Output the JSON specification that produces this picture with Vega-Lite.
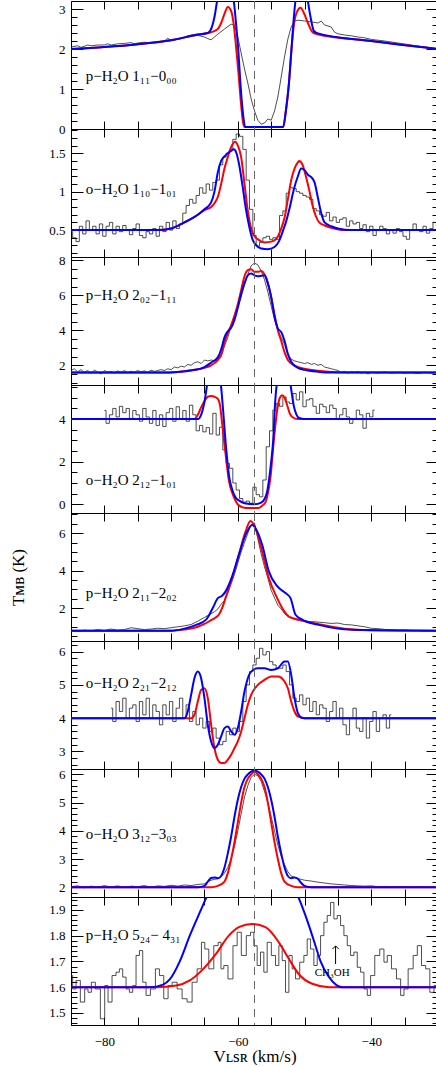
{
"$schema":"https://vega.github.io/schema/vega-lite/v6.json",
"padding":{"left":8,"top":0,"right":1,"bottom":0},
"autosize":{"type":"pad"},
"background":"white",
"spacing":0,
"bounds":"flush",
"config":{"view":{"stroke":"#000","strokeWidth":1},"axis":{"domain":false,"grid":false,"tickColor":"#000","tickWidth":1,"labelFont":"Liberation Serif","labelFontSize":13,"labelColor":"#000","titleFont":"Liberation Serif","titleFontSize":17,"titleFontWeight":"normal","titleColor":"#000"}},
"datasets":{
"p1o":[{"v":-85,"t":2.05},{"v":-84,"t":2.08},{"v":-83.5,"t":2.04},{"v":-83,"t":2.07},{"v":-82.5,"t":2.1},{"v":-82,"t":2.08},{"v":-81,"t":2.1},{"v":-80,"t":2.1},{"v":-79.5,"t":2.13},{"v":-79,"t":2.1},{"v":-78,"t":2.13},{"v":-77,"t":2.14},{"v":-76,"t":2.16},{"v":-75.5,"t":2.13},{"v":-75,"t":2.15},{"v":-74,"t":2.17},{"v":-73,"t":2.15},{"v":-72,"t":2.19},{"v":-71,"t":2.2},{"v":-70.5,"t":2.27},{"v":-70,"t":2.21},{"v":-69,"t":2.24},{"v":-68,"t":2.28},{"v":-67,"t":2.31},{"v":-66,"t":2.34},{"v":-65,"t":2.3},{"v":-64.5,"t":2.26},{"v":-64,"t":2.23},{"v":-63.5,"t":2.3},{"v":-63,"t":2.37},{"v":-62,"t":2.5},{"v":-61,"t":2.62},{"v":-60.5,"t":2.6},{"v":-60,"t":2.3},{"v":-59.5,"t":1.9},{"v":-59,"t":1.5},{"v":-58.5,"t":1.15},{"v":-58,"t":0.75},{"v":-57.5,"t":0.45},{"v":-57,"t":0.22},{"v":-56.5,"t":0.12},{"v":-56,"t":0.15},{"v":-55.5,"t":0.25},{"v":-55,"t":0.22},{"v":-54.5,"t":0.45},{"v":-54,"t":0.8},{"v":-53.5,"t":1.3},{"v":-53,"t":1.8},{"v":-52.5,"t":2.25},{"v":-52,"t":2.55},{"v":-51.5,"t":2.7},{"v":-51,"t":2.72},{"v":-50,"t":2.7},{"v":-49,"t":2.68},{"v":-48,"t":2.65},{"v":-47.5,"t":2.7},{"v":-47,"t":2.6},{"v":-46,"t":2.55},{"v":-45.5,"t":2.42},{"v":-45,"t":2.38},{"v":-44,"t":2.35},{"v":-43,"t":2.33},{"v":-42,"t":2.3},{"v":-41,"t":2.28},{"v":-40,"t":2.24},{"v":-38,"t":2.2},{"v":-36,"t":2.15},{"v":-34,"t":2.1},{"v":-32,"t":2.05},{"v":-30,"t":2.0}],
"p1r":[{"v":-85,"t":2.0},{"v":-80,"t":2.05},{"v":-75,"t":2.12},{"v":-70,"t":2.22},{"v":-66,"t":2.36},{"v":-64.5,"t":2.4},{"v":-64,"t":2.42},{"v":-63,"t":2.5},{"v":-62.5,"t":2.65},{"v":-62,"t":2.88},{"v":-61.5,"t":3.05},{"v":-61,"t":2.95},{"v":-60.6,"t":2.6},{"v":-60.3,"t":2.12},{"v":-59.9,"t":1.4},{"v":-59.6,"t":0.78},{"v":-59.2,"t":0.15},{"v":-59.0,"t":0.05},{"v":-53.2,"t":0.05},{"v":-52.8,"t":0.45},{"v":-52.35,"t":1.12},{"v":-52,"t":1.9},{"v":-51.6,"t":2.6},{"v":-51.2,"t":2.9},{"v":-50.6,"t":3.03},{"v":-50.1,"t":2.9},{"v":-49.5,"t":2.65},{"v":-48.8,"t":2.42},{"v":-48.1,"t":2.37},{"v":-40,"t":2.2},{"v":-30,"t":2.0}],
"p1b":[{"v":-85,"t":2.0},{"v":-80,"t":2.05},{"v":-75,"t":2.12},{"v":-70,"t":2.22},{"v":-66,"t":2.36},{"v":-64.5,"t":2.4},{"v":-64,"t":2.5},{"v":-63.5,"t":2.8},{"v":-63,"t":3.3},{"v":-62.5,"t":3.6},{"v":-61.5,"t":3.8},{"v":-61,"t":3.7},{"v":-60.6,"t":3.2},{"v":-60.3,"t":2.7},{"v":-59.9,"t":1.9},{"v":-59.6,"t":1.12},{"v":-59.2,"t":0.35},{"v":-58.9,"t":0.05},{"v":-53.2,"t":0.05},{"v":-52.8,"t":0.45},{"v":-52.35,"t":1.12},{"v":-52,"t":1.9},{"v":-51.6,"t":2.8},{"v":-51.3,"t":3.3},{"v":-50.8,"t":3.7},{"v":-50,"t":3.8},{"v":-49.5,"t":3.2},{"v":-49.1,"t":2.8},{"v":-48.6,"t":2.45},{"v":-48,"t":2.39},{"v":-40,"t":2.2},{"v":-30,"t":2.0}],
"p2o":[{"v":-85,"t":0.48},{"v":-84.5,"t":0.4},{"v":-84,"t":0.35},{"v":-83.5,"t":0.55},{"v":-83,"t":0.45},{"v":-82.5,"t":0.62},{"v":-82,"t":0.5},{"v":-81.5,"t":0.55},{"v":-81,"t":0.45},{"v":-80.5,"t":0.58},{"v":-80,"t":0.42},{"v":-79.5,"t":0.55},{"v":-79,"t":0.6},{"v":-78.5,"t":0.45},{"v":-78,"t":0.55},{"v":-77.5,"t":0.48},{"v":-77,"t":0.56},{"v":-76.5,"t":0.5},{"v":-76,"t":0.44},{"v":-75.5,"t":0.52},{"v":-75,"t":0.58},{"v":-74.5,"t":0.43},{"v":-74,"t":0.4},{"v":-73.5,"t":0.48},{"v":-73,"t":0.45},{"v":-72.5,"t":0.52},{"v":-72,"t":0.42},{"v":-71.5,"t":0.55},{"v":-71,"t":0.48},{"v":-70.5,"t":0.6},{"v":-70,"t":0.5},{"v":-69.5,"t":0.62},{"v":-69,"t":0.52},{"v":-68.5,"t":0.58},{"v":-68,"t":0.72},{"v":-67.5,"t":0.82},{"v":-67,"t":0.9},{"v":-66.5,"t":0.85},{"v":-66,"t":0.95},{"v":-65.5,"t":1.05},{"v":-65,"t":0.98},{"v":-64.5,"t":1.1},{"v":-64,"t":1.02},{"v":-63.5,"t":1.12},{"v":-63,"t":1.15},{"v":-62.5,"t":1.35},{"v":-62,"t":1.45},{"v":-61.5,"t":1.5},{"v":-61,"t":1.55},{"v":-60.5,"t":1.68},{"v":-60,"t":1.75},{"v":-59.5,"t":1.72},{"v":-59,"t":1.55},{"v":-58.5,"t":1.15},{"v":-58,"t":0.77},{"v":-57.5,"t":0.43},{"v":-57,"t":0.29},{"v":-56.5,"t":0.34},{"v":-56,"t":0.4},{"v":-55.5,"t":0.42},{"v":-55,"t":0.38},{"v":-54.5,"t":0.4},{"v":-54,"t":0.38},{"v":-53.5,"t":0.69},{"v":-53,"t":0.75},{"v":-52.5,"t":0.98},{"v":-52,"t":1.05},{"v":-51.5,"t":1.04},{"v":-51,"t":1.0},{"v":-50.5,"t":0.98},{"v":-50,"t":0.95},{"v":-49.5,"t":0.93},{"v":-49,"t":0.9},{"v":-48.5,"t":0.78},{"v":-48,"t":0.75},{"v":-47.5,"t":0.7},{"v":-47,"t":0.68},{"v":-46.5,"t":0.73},{"v":-46,"t":0.62},{"v":-45.5,"t":0.67},{"v":-45,"t":0.6},{"v":-44.5,"t":0.64},{"v":-44,"t":0.66},{"v":-43.5,"t":0.55},{"v":-43,"t":0.62},{"v":-42.5,"t":0.58},{"v":-42,"t":0.6},{"v":-41.5,"t":0.52},{"v":-41,"t":0.57},{"v":-40.5,"t":0.48},{"v":-40,"t":0.55},{"v":-39.5,"t":0.43},{"v":-39,"t":0.5},{"v":-38.5,"t":0.55},{"v":-38,"t":0.52},{"v":-37.5,"t":0.45},{"v":-37,"t":0.5},{"v":-36.5,"t":0.46},{"v":-36,"t":0.52},{"v":-35.5,"t":0.48},{"v":-35,"t":0.42},{"v":-34.5,"t":0.38},{"v":-34,"t":0.5},{"v":-33.5,"t":0.58},{"v":-33,"t":0.5},{"v":-32.5,"t":0.48},{"v":-32,"t":0.55},{"v":-31.5,"t":0.46},{"v":-31,"t":0.52},{"v":-30.5,"t":0.6},{"v":-30,"t":0.55}],
"p2r":[{"v":-85,"t":0.5},{"v":-72,"t":0.5},{"v":-70,"t":0.52},{"v":-68,"t":0.6},{"v":-66,"t":0.7},{"v":-65,"t":0.76},{"v":-64,"t":0.8},{"v":-63.5,"t":0.85},{"v":-63,"t":0.93},{"v":-62.5,"t":1.1},{"v":-62,"t":1.3},{"v":-61.5,"t":1.45},{"v":-61,"t":1.58},{"v":-60.4,"t":1.65},{"v":-60,"t":1.6},{"v":-59.5,"t":1.45},{"v":-59,"t":1.1},{"v":-58.5,"t":0.75},{"v":-58,"t":0.52},{"v":-57.5,"t":0.42},{"v":-57,"t":0.38},{"v":-56,"t":0.34},{"v":-55,"t":0.35},{"v":-54.3,"t":0.38},{"v":-53.5,"t":0.52},{"v":-53,"t":0.66},{"v":-52.5,"t":0.9},{"v":-52,"t":1.15},{"v":-51.5,"t":1.3},{"v":-51,"t":1.38},{"v":-50.8,"t":1.4},{"v":-50.3,"t":1.35},{"v":-49.8,"t":1.2},{"v":-49.3,"t":1.02},{"v":-48.8,"t":0.82},{"v":-48.3,"t":0.68},{"v":-47.8,"t":0.6},{"v":-47,"t":0.56},{"v":-46,"t":0.53},{"v":-44,"t":0.5},{"v":-30,"t":0.5}],
"p2b":[{"v":-85,"t":0.5},{"v":-72,"t":0.5},{"v":-70,"t":0.52},{"v":-68,"t":0.6},{"v":-66,"t":0.7},{"v":-65,"t":0.77},{"v":-64,"t":0.86},{"v":-63.5,"t":1.0},{"v":-63,"t":1.25},{"v":-62.5,"t":1.4},{"v":-62,"t":1.46},{"v":-61.5,"t":1.5},{"v":-61,"t":1.53},{"v":-60.6,"t":1.55},{"v":-60.2,"t":1.5},{"v":-59.8,"t":1.35},{"v":-59.3,"t":1.08},{"v":-58.8,"t":0.78},{"v":-58.3,"t":0.55},{"v":-57.8,"t":0.38},{"v":-57.2,"t":0.3},{"v":-56.5,"t":0.26},{"v":-55.5,"t":0.25},{"v":-54.5,"t":0.28},{"v":-53.8,"t":0.36},{"v":-53.2,"t":0.5},{"v":-52.8,"t":0.6},{"v":-52.2,"t":0.8},{"v":-51.6,"t":1.03},{"v":-51,"t":1.2},{"v":-50.5,"t":1.3},{"v":-50,"t":1.28},{"v":-49.5,"t":1.22},{"v":-49,"t":1.19},{"v":-48.5,"t":1.12},{"v":-48,"t":0.92},{"v":-47.5,"t":0.72},{"v":-47,"t":0.6},{"v":-46,"t":0.55},{"v":-45,"t":0.52},{"v":-43,"t":0.5},{"v":-30,"t":0.5}],
"p3o":[{"v":-85,"t":1.7},{"v":-84.5,"t":1.8},{"v":-84,"t":1.62},{"v":-83.5,"t":1.75},{"v":-83,"t":1.6},{"v":-82.5,"t":1.7},{"v":-82,"t":1.55},{"v":-81.5,"t":1.72},{"v":-81,"t":1.62},{"v":-80.5,"t":1.5},{"v":-80,"t":1.7},{"v":-79.5,"t":1.6},{"v":-79,"t":1.65},{"v":-78.5,"t":1.55},{"v":-78,"t":1.68},{"v":-77.5,"t":1.6},{"v":-77,"t":1.7},{"v":-76.5,"t":1.58},{"v":-76,"t":1.66},{"v":-75.5,"t":1.6},{"v":-75,"t":1.7},{"v":-74.5,"t":1.62},{"v":-74,"t":1.68},{"v":-73.5,"t":1.6},{"v":-73,"t":1.72},{"v":-72.5,"t":1.65},{"v":-72,"t":1.7},{"v":-71.5,"t":1.75},{"v":-71,"t":1.7},{"v":-70.5,"t":1.8},{"v":-70,"t":1.75},{"v":-69.5,"t":1.9},{"v":-69,"t":1.85},{"v":-68.5,"t":1.95},{"v":-68,"t":1.9},{"v":-67.5,"t":2.05},{"v":-67,"t":2.0},{"v":-66.5,"t":2.15},{"v":-66,"t":2.2},{"v":-65.5,"t":2.1},{"v":-65,"t":2.3},{"v":-64.5,"t":2.25},{"v":-64,"t":2.3},{"v":-63.5,"t":2.25},{"v":-63,"t":2.3},{"v":-62.5,"t":2.5},{"v":-62,"t":3.1},{"v":-61.5,"t":3.6},{"v":-61,"t":4.2},{"v":-60.5,"t":4.7},{"v":-60,"t":5.3},{"v":-59.5,"t":5.9},{"v":-59,"t":6.6},{"v":-58.5,"t":7.2},{"v":-58,"t":7.7},{"v":-57.5,"t":7.85},{"v":-57,"t":7.75},{"v":-56.5,"t":7.4},{"v":-56,"t":6.9},{"v":-55.5,"t":6.2},{"v":-55,"t":5.4},{"v":-54.5,"t":4.6},{"v":-54,"t":4.0},{"v":-53.5,"t":3.6},{"v":-53,"t":3.2},{"v":-52.5,"t":2.6},{"v":-52,"t":2.35},{"v":-51.5,"t":2.25},{"v":-51,"t":2.2},{"v":-50.5,"t":2.15},{"v":-50,"t":2.1},{"v":-49.5,"t":2.15},{"v":-49,"t":2.05},{"v":-48.5,"t":2.1},{"v":-48,"t":2.0},{"v":-47.5,"t":2.05},{"v":-47,"t":1.9},{"v":-46.5,"t":1.85},{"v":-46,"t":1.8},{"v":-45.5,"t":1.75},{"v":-45,"t":1.7},{"v":-44.5,"t":1.6},{"v":-44,"t":1.65},{"v":-43.5,"t":1.55},{"v":-43,"t":1.62},{"v":-42.5,"t":1.58},{"v":-42,"t":1.65},{"v":-41.5,"t":1.55},{"v":-41,"t":1.6},{"v":-40.5,"t":1.5},{"v":-40,"t":1.6},{"v":-39,"t":1.55},{"v":-38,"t":1.62},{"v":-37,"t":1.55},{"v":-36,"t":1.6},{"v":-35,"t":1.55},{"v":-34,"t":1.58},{"v":-33,"t":1.52},{"v":-32,"t":1.6},{"v":-31,"t":1.55},{"v":-30,"t":1.58}],
"p3r":[{"v":-85,"t":1.58},{"v":-71,"t":1.58},{"v":-69,"t":1.62},{"v":-67,"t":1.72},{"v":-65,"t":1.85},{"v":-64,"t":2.0},{"v":-63,"t":2.3},{"v":-62.5,"t":2.6},{"v":-62,"t":3.3},{"v":-61.5,"t":3.85},{"v":-61,"t":4.3},{"v":-60.5,"t":4.85},{"v":-60,"t":5.5},{"v":-59.5,"t":6.3},{"v":-59,"t":7.1},{"v":-58.5,"t":7.45},{"v":-58,"t":7.5},{"v":-57.5,"t":7.35},{"v":-57,"t":7.35},{"v":-56.5,"t":7.4},{"v":-56,"t":7.2},{"v":-55.5,"t":6.7},{"v":-55,"t":5.9},{"v":-54.5,"t":4.9},{"v":-54,"t":4.0},{"v":-53.5,"t":3.4},{"v":-53,"t":2.75},{"v":-52.5,"t":2.3},{"v":-52,"t":2.1},{"v":-51,"t":1.9},{"v":-50,"t":1.8},{"v":-48,"t":1.68},{"v":-45,"t":1.6},{"v":-30,"t":1.58}],
"p3b":[{"v":-85,"t":1.58},{"v":-71,"t":1.58},{"v":-69,"t":1.62},{"v":-67,"t":1.7},{"v":-65,"t":1.9},{"v":-64,"t":2.15},{"v":-63,"t":2.45},{"v":-62.5,"t":2.9},{"v":-62,"t":3.6},{"v":-61.5,"t":3.95},{"v":-61,"t":4.15},{"v":-60.5,"t":4.6},{"v":-60,"t":5.3},{"v":-59.5,"t":6.1},{"v":-59,"t":6.7},{"v":-58.5,"t":7.15},{"v":-58,"t":7.25},{"v":-57.5,"t":7.15},{"v":-57,"t":7.1},{"v":-56.5,"t":7.12},{"v":-56,"t":7.15},{"v":-55.5,"t":6.7},{"v":-55,"t":5.9},{"v":-54.5,"t":4.8},{"v":-54,"t":4.1},{"v":-53.5,"t":3.9},{"v":-53,"t":3.4},{"v":-52.5,"t":2.65},{"v":-52,"t":2.2},{"v":-51,"t":1.85},{"v":-50,"t":1.74},{"v":-48,"t":1.63},{"v":-46,"t":1.58},{"v":-30,"t":1.58}],
"p4o":[{"v":-80,"t":4.4},{"v":-79.5,"t":3.8},{"v":-79,"t":4.2},{"v":-78.5,"t":4.5},{"v":-78,"t":4.1},{"v":-77.5,"t":4.6},{"v":-77,"t":4.3},{"v":-76.5,"t":4.5},{"v":-76,"t":4.0},{"v":-75.5,"t":4.4},{"v":-75,"t":4.2},{"v":-74.5,"t":3.9},{"v":-74,"t":4.5},{"v":-73.5,"t":4.1},{"v":-73,"t":3.8},{"v":-72.5,"t":4.4},{"v":-72,"t":3.7},{"v":-71.5,"t":4.2},{"v":-71,"t":3.65},{"v":-70.5,"t":4.3},{"v":-70,"t":4.5},{"v":-69.5,"t":3.9},{"v":-69,"t":4.58},{"v":-68.5,"t":4.0},{"v":-68,"t":4.4},{"v":-67.5,"t":3.9},{"v":-67,"t":4.65},{"v":-66.5,"t":4.2},{"v":-66,"t":3.45},{"v":-65.5,"t":3.7},{"v":-65,"t":3.4},{"v":-64.5,"t":3.6},{"v":-64,"t":3.3},{"v":-63.5,"t":4.27},{"v":-63,"t":3.25},{"v":-62.5,"t":3.62},{"v":-62,"t":2.55},{"v":-61.5,"t":1.92},{"v":-61,"t":1.69},{"v":-60.5,"t":1.0},{"v":-60,"t":0.67},{"v":-59.5,"t":0.27},{"v":-59,"t":0.1},{"v":-58.5,"t":0.15},{"v":-58,"t":0.05},{"v":-57.5,"t":0.8},{"v":-57,"t":0.45},{"v":-56.5,"t":0.35},{"v":-56,"t":1.14},{"v":-55.5,"t":2.7},{"v":-55,"t":3.45},{"v":-54.5,"t":4.42},{"v":-54,"t":4.73},{"v":-53.5,"t":4.6},{"v":-53,"t":5.04},{"v":-52.5,"t":4.8},{"v":-52,"t":4.73},{"v":-51.5,"t":5.2},{"v":-51,"t":4.9},{"v":-50.5,"t":5.28},{"v":-50,"t":4.58},{"v":-49.5,"t":4.9},{"v":-49,"t":4.96},{"v":-48.5,"t":4.6},{"v":-48,"t":4.27},{"v":-47.5,"t":4.7},{"v":-47,"t":4.58},{"v":-46.5,"t":4.3},{"v":-46,"t":4.66},{"v":-45.5,"t":4.5},{"v":-45,"t":4.03},{"v":-44.5,"t":4.2},{"v":-44,"t":4.5},{"v":-43.5,"t":4.1},{"v":-43,"t":3.8},{"v":-42.5,"t":4.0},{"v":-42,"t":4.42},{"v":-41.5,"t":4.2},{"v":-41,"t":3.57},{"v":-40.5,"t":4.27},{"v":-40,"t":4.1},{"v":-39.5,"t":4.42}],
"p4r":[{"v":-85,"t":4.0},{"v":-66.5,"t":4.0},{"v":-66,"t":4.2},{"v":-65.5,"t":4.55},{"v":-65,"t":4.85},{"v":-64.5,"t":5.05},{"v":-64,"t":5.08},{"v":-63.5,"t":5.05},{"v":-63,"t":4.95},{"v":-62.7,"t":4.7},{"v":-62.35,"t":3.8},{"v":-61.85,"t":2.4},{"v":-61.35,"t":1.14},{"v":-60.6,"t":0.35},{"v":-59.85,"t":-0.05},{"v":-58.85,"t":-0.17},{"v":-56.85,"t":-0.17},{"v":-56.3,"t":-0.05},{"v":-55.85,"t":0.1},{"v":-55.5,"t":0.5},{"v":-55.1,"t":1.29},{"v":-54.6,"t":3.0},{"v":-54.1,"t":4.42},{"v":-53.7,"t":5.0},{"v":-53.35,"t":5.12},{"v":-53,"t":5.0},{"v":-52.6,"t":4.65},{"v":-52.2,"t":4.25},{"v":-51.85,"t":4.1},{"v":-51,"t":4.0},{"v":-30,"t":4.0}],
"p4b":[{"v":-85,"t":4.0},{"v":-66,"t":4.0},{"v":-65.5,"t":4.2},{"v":-65,"t":4.8},{"v":-64.5,"t":5.8},{"v":-64,"t":6.3},{"v":-63,"t":6.5},{"v":-62.5,"t":5.5},{"v":-62.2,"t":4.4},{"v":-61.8,"t":2.8},{"v":-61.3,"t":1.3},{"v":-60.8,"t":0.65},{"v":-60.3,"t":0.3},{"v":-59.8,"t":0.17},{"v":-59,"t":0.05},{"v":-57.5,"t":0.0},{"v":-56.5,"t":0.08},{"v":-56,"t":0.25},{"v":-55.6,"t":0.6},{"v":-55.3,"t":1.2},{"v":-55,"t":2.0},{"v":-54.7,"t":3.0},{"v":-54.4,"t":4.8},{"v":-54,"t":5.9},{"v":-53,"t":6.4},{"v":-52.3,"t":6.0},{"v":-52,"t":5.4},{"v":-51.6,"t":4.6},{"v":-51.2,"t":4.2},{"v":-50.8,"t":4.05},{"v":-50,"t":4.0},{"v":-30,"t":4.0}],
"p5o":[{"v":-85,"t":0.8},{"v":-84,"t":0.75},{"v":-83,"t":0.82},{"v":-82,"t":0.78},{"v":-81,"t":0.85},{"v":-80,"t":0.8},{"v":-79,"t":0.88},{"v":-78,"t":0.82},{"v":-77,"t":0.85},{"v":-76,"t":0.95},{"v":-75,"t":0.9},{"v":-74,"t":0.85},{"v":-73,"t":0.88},{"v":-72,"t":0.92},{"v":-71,"t":0.9},{"v":-70,"t":0.95},{"v":-69,"t":1.0},{"v":-68,"t":1.05},{"v":-67,"t":1.12},{"v":-66,"t":1.3},{"v":-65,"t":1.5},{"v":-64,"t":1.7},{"v":-63.5,"t":1.8},{"v":-63,"t":1.95},{"v":-62.5,"t":2.2},{"v":-62,"t":2.4},{"v":-61.5,"t":2.8},{"v":-61,"t":3.3},{"v":-60.5,"t":3.8},{"v":-60,"t":4.4},{"v":-59.5,"t":5.0},{"v":-59,"t":5.5},{"v":-58.5,"t":6.0},{"v":-58,"t":6.45},{"v":-57.5,"t":6.55},{"v":-57,"t":5.7},{"v":-56.5,"t":4.9},{"v":-56,"t":4.2},{"v":-55.5,"t":3.6},{"v":-55,"t":2.95},{"v":-54.5,"t":2.55},{"v":-54,"t":2.15},{"v":-53.5,"t":1.95},{"v":-53,"t":1.7},{"v":-52.5,"t":1.55},{"v":-52,"t":1.45},{"v":-51.5,"t":1.4},{"v":-51,"t":1.35},{"v":-50,"t":1.3},{"v":-49,"t":1.28},{"v":-48,"t":1.25},{"v":-47,"t":1.22},{"v":-46,"t":1.18},{"v":-45,"t":1.2},{"v":-44,"t":1.12},{"v":-43,"t":1.1},{"v":-42,"t":1.05},{"v":-41,"t":1.0},{"v":-40,"t":0.92},{"v":-39,"t":0.9},{"v":-38,"t":0.86},{"v":-37,"t":0.85},{"v":-36,"t":0.82},{"v":-35,"t":0.83},{"v":-34,"t":0.8},{"v":-33,"t":0.8},{"v":-32,"t":0.78},{"v":-31,"t":0.8},{"v":-30,"t":0.77}],
"p5r":[{"v":-85,"t":0.79},{"v":-70,"t":0.79},{"v":-68,"t":0.85},{"v":-66,"t":1.0},{"v":-65,"t":1.15},{"v":-64,"t":1.35},{"v":-63.5,"t":1.45},{"v":-62.85,"t":1.64},{"v":-62.25,"t":2.09},{"v":-61.85,"t":2.53},{"v":-60.85,"t":3.6},{"v":-59.85,"t":4.84},{"v":-58.85,"t":6.08},{"v":-58.1,"t":6.65},{"v":-57.35,"t":6.26},{"v":-56.35,"t":5.0},{"v":-55.35,"t":3.6},{"v":-54.1,"t":2.53},{"v":-53.35,"t":2.0},{"v":-52.35,"t":1.55},{"v":-50.85,"t":1.38},{"v":-47.85,"t":1.14},{"v":-44,"t":0.9},{"v":-40,"t":0.82},{"v":-30,"t":0.79}],
"p5b":[{"v":-85,"t":0.79},{"v":-70,"t":0.79},{"v":-68,"t":0.9},{"v":-66.25,"t":1.1},{"v":-64.75,"t":1.38},{"v":-63.75,"t":2.0},{"v":-63,"t":2.53},{"v":-62.4,"t":2.65},{"v":-61.85,"t":2.88},{"v":-60.85,"t":3.69},{"v":-59.85,"t":4.84},{"v":-58.85,"t":5.9},{"v":-57.85,"t":6.44},{"v":-57.1,"t":6.1},{"v":-56.35,"t":5.38},{"v":-55.35,"t":3.96},{"v":-54.1,"t":3.17},{"v":-52.85,"t":2.8},{"v":-52.1,"t":2.53},{"v":-51.35,"t":1.64},{"v":-50.35,"t":1.38},{"v":-47.85,"t":1.1},{"v":-42.85,"t":0.84},{"v":-30,"t":0.79}],
"p6o":[{"v":-79,"t":4.3},{"v":-78.5,"t":3.9},{"v":-78,"t":4.5},{"v":-77.5,"t":4.2},{"v":-77,"t":4.6},{"v":-76.5,"t":4.0},{"v":-76,"t":4.3},{"v":-75.5,"t":4.4},{"v":-75,"t":3.9},{"v":-74.5,"t":4.5},{"v":-74,"t":4.1},{"v":-73.5,"t":4.6},{"v":-73,"t":4.0},{"v":-72.5,"t":4.4},{"v":-72,"t":4.2},{"v":-71.5,"t":3.8},{"v":-71,"t":4.4},{"v":-70.5,"t":4.1},{"v":-70,"t":4.5},{"v":-69.5,"t":3.9},{"v":-69,"t":4.3},{"v":-68.5,"t":4.6},{"v":-68,"t":4.0},{"v":-67.5,"t":4.4},{"v":-67,"t":3.9},{"v":-66.5,"t":4.2},{"v":-66,"t":3.8},{"v":-65.5,"t":4.0},{"v":-65,"t":3.7},{"v":-64.5,"t":3.9},{"v":-64,"t":3.6},{"v":-63.5,"t":3.7},{"v":-63,"t":3.4},{"v":-62.5,"t":3.2},{"v":-62,"t":3.3},{"v":-61.5,"t":3.6},{"v":-61,"t":3.5},{"v":-60.5,"t":3.7},{"v":-60,"t":3.6},{"v":-59.5,"t":3.9},{"v":-59,"t":4.5},{"v":-58.5,"t":5.0},{"v":-58,"t":5.4},{"v":-57.5,"t":5.6},{"v":-57,"t":5.8},{"v":-56.5,"t":6.1},{"v":-56,"t":5.9},{"v":-55.5,"t":6.0},{"v":-55,"t":5.7},{"v":-54.5,"t":5.6},{"v":-54,"t":5.5},{"v":-53.5,"t":5.5},{"v":-53,"t":5.6},{"v":-52.5,"t":5.4},{"v":-52,"t":5.0},{"v":-51.5,"t":4.6},{"v":-51,"t":4.5},{"v":-50.5,"t":4.7},{"v":-50,"t":4.4},{"v":-49.5,"t":4.6},{"v":-49,"t":4.2},{"v":-48.5,"t":4.5},{"v":-48,"t":4.1},{"v":-47.5,"t":4.4},{"v":-47,"t":4.3},{"v":-46.5,"t":3.9},{"v":-46,"t":4.2},{"v":-45.5,"t":4.5},{"v":-45,"t":4.0},{"v":-44.5,"t":4.3},{"v":-44,"t":3.8},{"v":-43.5,"t":3.5},{"v":-43,"t":4.0},{"v":-42.5,"t":4.3},{"v":-42,"t":3.7},{"v":-41.5,"t":3.6},{"v":-41,"t":4.0},{"v":-40.5,"t":3.4},{"v":-40,"t":3.9},{"v":-39.5,"t":4.2},{"v":-39,"t":3.6},{"v":-38.5,"t":4.0},{"v":-38,"t":4.1},{"v":-37.5,"t":3.7},{"v":-37,"t":4.1}],
"p6r":[{"v":-85,"t":4},{"v":-67,"t":4},{"v":-66.5,"t":4.1},{"v":-66,"t":4.5},{"v":-65.5,"t":4.85},{"v":-65,"t":4.9},{"v":-64.5,"t":4.6},{"v":-64,"t":3.8},{"v":-63.5,"t":3.1},{"v":-63,"t":2.75},{"v":-62.5,"t":2.65},{"v":-62,"t":2.65},{"v":-61.5,"t":2.75},{"v":-61,"t":2.9},{"v":-60.5,"t":3.1},{"v":-60,"t":3.3},{"v":-59.5,"t":3.6},{"v":-59,"t":4.0},{"v":-58.5,"t":4.4},{"v":-58,"t":4.7},{"v":-57,"t":5.0},{"v":-56,"t":5.15},{"v":-55,"t":5.25},{"v":-54,"t":5.25},{"v":-53,"t":5.1},{"v":-52.5,"t":4.9},{"v":-52,"t":4.5},{"v":-51.5,"t":4.2},{"v":-51,"t":4.05},{"v":-50,"t":4},{"v":-30,"t":4}],
"p6b":[{"v":-85,"t":4},{"v":-68,"t":4},{"v":-67.5,"t":4.2},{"v":-67,"t":4.7},{"v":-66.5,"t":5.2},{"v":-66,"t":5.4},{"v":-65.5,"t":5.2},{"v":-65,"t":4.6},{"v":-64.5,"t":3.8},{"v":-64,"t":3.3},{"v":-63.5,"t":3.1},{"v":-63,"t":3.2},{"v":-62.5,"t":3.45},{"v":-62,"t":3.7},{"v":-61.5,"t":3.75},{"v":-61,"t":3.6},{"v":-60.5,"t":3.5},{"v":-60,"t":3.7},{"v":-59.5,"t":4.2},{"v":-59,"t":4.8},{"v":-58.5,"t":5.2},{"v":-58,"t":5.4},{"v":-57,"t":5.5},{"v":-56,"t":5.5},{"v":-55,"t":5.45},{"v":-54,"t":5.5},{"v":-53,"t":5.7},{"v":-52.5,"t":5.7},{"v":-52,"t":5.3},{"v":-51.5,"t":4.6},{"v":-51,"t":4.15},{"v":-50.5,"t":4.02},{"v":-50,"t":4},{"v":-30,"t":4}],
"p7o":[{"v":-85,"t":2.02},{"v":-84,"t":2.05},{"v":-83,"t":1.98},{"v":-82,"t":2.04},{"v":-81,"t":2.0},{"v":-80,"t":2.06},{"v":-79,"t":2.01},{"v":-78,"t":2.05},{"v":-77,"t":1.99},{"v":-76,"t":2.04},{"v":-75,"t":2.02},{"v":-74,"t":2.06},{"v":-73,"t":2.0},{"v":-72,"t":2.05},{"v":-71,"t":2.03},{"v":-70,"t":2.07},{"v":-69,"t":2.04},{"v":-68,"t":2.08},{"v":-67,"t":2.06},{"v":-66,"t":2.1},{"v":-65,"t":2.12},{"v":-64.5,"t":2.2},{"v":-64,"t":2.25},{"v":-63.5,"t":2.28},{"v":-63,"t":2.3},{"v":-62.5,"t":2.38},{"v":-62,"t":2.5},{"v":-61.5,"t":2.7},{"v":-61,"t":3.0},{"v":-60.5,"t":3.45},{"v":-60,"t":4.0},{"v":-59.5,"t":4.6},{"v":-59,"t":5.2},{"v":-58.5,"t":5.6},{"v":-58,"t":5.9},{"v":-57.5,"t":6.0},{"v":-57,"t":5.95},{"v":-56.5,"t":5.75},{"v":-56,"t":5.4},{"v":-55.5,"t":5.0},{"v":-55,"t":4.5},{"v":-54.5,"t":4.0},{"v":-54,"t":3.5},{"v":-53.5,"t":3.1},{"v":-53,"t":2.8},{"v":-52.5,"t":2.55},{"v":-52,"t":2.4},{"v":-51.5,"t":2.35},{"v":-51,"t":2.3},{"v":-50.5,"t":2.28},{"v":-50,"t":2.25},{"v":-49,"t":2.22},{"v":-48,"t":2.18},{"v":-47,"t":2.15},{"v":-46,"t":2.12},{"v":-45,"t":2.1},{"v":-44,"t":2.08},{"v":-43,"t":2.06},{"v":-42,"t":2.05},{"v":-41,"t":2.04},{"v":-40,"t":2.05},{"v":-39,"t":2.02},{"v":-38,"t":2.03},{"v":-37,"t":2.0},{"v":-36,"t":2.02},{"v":-35,"t":2.01},{"v":-34,"t":2.0},{"v":-33,"t":2.02},{"v":-32,"t":2.0},{"v":-31,"t":2.01},{"v":-30,"t":2.0}],
"p7r":[{"v":-85,"t":2},{"v":-64,"t":2},{"v":-63,"t":2.05},{"v":-62,"t":2.2},{"v":-61.5,"t":2.5},{"v":-61,"t":3.0},{"v":-60.5,"t":3.6},{"v":-60,"t":4.3},{"v":-59.5,"t":5.0},{"v":-59,"t":5.55},{"v":-58.5,"t":5.85},{"v":-58,"t":6.0},{"v":-57.5,"t":6.1},{"v":-57,"t":6.0},{"v":-56.5,"t":5.85},{"v":-56,"t":5.55},{"v":-55.5,"t":5.0},{"v":-55,"t":4.3},{"v":-54.5,"t":3.6},{"v":-54,"t":3.0},{"v":-53.5,"t":2.5},{"v":-53,"t":2.2},{"v":-52,"t":2.05},{"v":-51,"t":2},{"v":-30,"t":2}],
"p7b":[{"v":-85,"t":2},{"v":-66,"t":2},{"v":-65,"t":2.05},{"v":-64.5,"t":2.2},{"v":-64,"t":2.33},{"v":-63.5,"t":2.35},{"v":-63,"t":2.32},{"v":-62.5,"t":2.4},{"v":-62,"t":2.7},{"v":-61.5,"t":3.2},{"v":-61,"t":3.8},{"v":-60.5,"t":4.5},{"v":-60,"t":5.1},{"v":-59.5,"t":5.55},{"v":-59,"t":5.85},{"v":-58.5,"t":6.0},{"v":-58,"t":6.1},{"v":-57.5,"t":6.15},{"v":-57,"t":6.1},{"v":-56.5,"t":6.0},{"v":-56,"t":5.85},{"v":-55.5,"t":5.55},{"v":-55,"t":5.1},{"v":-54.5,"t":4.5},{"v":-54,"t":3.8},{"v":-53.5,"t":3.2},{"v":-53,"t":2.7},{"v":-52.5,"t":2.4},{"v":-52,"t":2.32},{"v":-51.5,"t":2.35},{"v":-51,"t":2.3},{"v":-50.5,"t":2.15},{"v":-50,"t":2.05},{"v":-49,"t":2},{"v":-30,"t":2}],
"p8o":[{"v":-85,"t":1.645},{"v":-84.5,"t":1.593},{"v":-84,"t":1.626},{"v":-83.2,"t":1.542},{"v":-82.7,"t":1.593},{"v":-82.2,"t":1.58},{"v":-81.7,"t":1.619},{"v":-81,"t":1.593},{"v":-80.2,"t":1.477},{"v":-79.7,"t":1.606},{"v":-79.2,"t":1.542},{"v":-78.5,"t":1.645},{"v":-78,"t":1.658},{"v":-77.5,"t":1.671},{"v":-77,"t":1.639},{"v":-76.5,"t":1.593},{"v":-76,"t":1.58},{"v":-75.5,"t":1.606},{"v":-75,"t":1.723},{"v":-74.5,"t":1.742},{"v":-74,"t":1.619},{"v":-73.5,"t":1.568},{"v":-72.7,"t":1.593},{"v":-72,"t":1.671},{"v":-71.5,"t":1.645},{"v":-70.7,"t":1.555},{"v":-70.2,"t":1.606},{"v":-69.5,"t":1.619},{"v":-68.7,"t":1.593},{"v":-68,"t":1.555},{"v":-67.2,"t":1.542},{"v":-66.5,"t":1.619},{"v":-65.7,"t":1.671},{"v":-65.2,"t":1.774},{"v":-64.7,"t":1.748},{"v":-64,"t":1.671},{"v":-63.2,"t":1.761},{"v":-62.7,"t":1.774},{"v":-62.35,"t":1.671},{"v":-61.85,"t":1.684},{"v":-61.1,"t":1.632},{"v":-60.35,"t":1.761},{"v":-59.85,"t":1.813},{"v":-59.1,"t":1.723},{"v":-58.35,"t":1.8},{"v":-57.85,"t":1.813},{"v":-57.35,"t":1.761},{"v":-56.85,"t":1.684},{"v":-56.35,"t":1.736},{"v":-55.85,"t":1.658},{"v":-55.35,"t":1.774},{"v":-54.6,"t":1.723},{"v":-54.1,"t":1.684},{"v":-53.6,"t":1.761},{"v":-53.1,"t":1.703},{"v":-52.6,"t":1.58},{"v":-52.1,"t":1.723},{"v":-51.6,"t":1.671},{"v":-51.1,"t":1.632},{"v":-50.35,"t":1.697},{"v":-49.85,"t":1.723},{"v":-49.35,"t":1.787},{"v":-48.85,"t":1.748},{"v":-48.35,"t":1.684},{"v":-47.85,"t":1.723},{"v":-47.35,"t":1.8},{"v":-46.85,"t":1.852},{"v":-46.35,"t":1.878},{"v":-45.85,"t":1.929},{"v":-45.35,"t":1.865},{"v":-44.85,"t":1.878},{"v":-44.35,"t":1.839},{"v":-43.85,"t":1.8},{"v":-43.35,"t":1.761},{"v":-42.85,"t":1.723},{"v":-42.35,"t":1.736},{"v":-41.85,"t":1.677},{"v":-41.35,"t":1.658},{"v":-40.85,"t":1.593},{"v":-40.35,"t":1.568},{"v":-39.85,"t":1.645},{"v":-39.1,"t":1.723},{"v":-38.35,"t":1.748},{"v":-37.85,"t":1.697},{"v":-37.35,"t":1.723},{"v":-36.6,"t":1.671},{"v":-35.85,"t":1.632},{"v":-35.35,"t":1.568},{"v":-34.85,"t":1.593},{"v":-34.1,"t":1.671},{"v":-33.35,"t":1.723},{"v":-32.85,"t":1.761},{"v":-32.1,"t":1.684},{"v":-31.6,"t":1.671},{"v":-30.85,"t":1.58},{"v":-30.35,"t":1.606},{"v":-30,"t":1.645}],
"p8r":[{"v":-85,"t":1.6},{"v":-72.2,"t":1.6},{"v":-69.2,"t":1.606},{"v":-67.2,"t":1.626},{"v":-65.2,"t":1.67},{"v":-63.25,"t":1.73},{"v":-61.35,"t":1.8},{"v":-59.85,"t":1.833},{"v":-57.85,"t":1.845},{"v":-55.85,"t":1.833},{"v":-53.85,"t":1.774},{"v":-52.35,"t":1.71},{"v":-50.85,"t":1.65},{"v":-48.85,"t":1.613},{"v":-46.35,"t":1.6},{"v":-30,"t":1.6}],
"p8b":[{"v":-85,"t":1.6},{"v":-73.2,"t":1.6},{"v":-71.2,"t":1.61},{"v":-70.2,"t":1.63},{"v":-68.7,"t":1.7},{"v":-67.2,"t":1.8},{"v":-65.7,"t":1.89},{"v":-64.5,"t":1.96},{"v":-62,"t":2.08},{"v":-58,"t":2.15},{"v":-54,"t":2.08},{"v":-51.1,"t":1.96},{"v":-49.35,"t":1.84},{"v":-48.35,"t":1.76},{"v":-47.6,"t":1.7},{"v":-46.35,"t":1.64},{"v":-44.35,"t":1.6},{"v":-30,"t":1.6}],
"one":[{"k":1}]
},
"vconcat":[
{"width":367,"height":128,"layer":[
{"data":{"name":"p1o"},"mark":{"type":"line","color":"#222","strokeWidth":0.8,"clip":true,"interpolate":"linear"},"encoding":{"x":{"field":"v","type":"quantitative","scale":{"domain":[-85,-30],"nice":false,"zero":false},"axis":{"orient":"bottom","values":[-85,-80,-75,-70,-65,-60,-55,-50,-45,-40,-35,-30],"tickSize":-8,"labels":false,"title":null}},"y":{"field":"t","type":"quantitative","scale":{"domain":[0,3.2],"nice":false,"zero":false},"axis":{"orient":"left","values":[0,1,2,3],"tickSize":-12,"labelPadding":18,"format":"~g","title":null}}}},
{"data":{"name":"p1r"},"mark":{"type":"line","color":"#ff0000","strokeWidth":2,"clip":true,"interpolate":"monotone"},"encoding":{"x":{"field":"v","type":"quantitative","axis":{"orient":"top","values":[-85,-80,-75,-70,-65,-60,-55,-50,-45,-40,-35,-30],"tickSize":-8,"labels":false,"title":null}},"y":{"field":"t","type":"quantitative","axis":{"orient":"right","values":[0,1,2,3],"tickSize":-12,"labels":false,"title":null}}}},
{"data":{"name":"p1b"},"mark":{"type":"line","color":"#0000ff","strokeWidth":2,"clip":true,"interpolate":"monotone"},"encoding":{"x":{"field":"v","type":"quantitative","axis":null},"y":{"field":"t","type":"quantitative","axis":{"orient":"left","values":[0.2,0.4,0.6,0.8,1.2,1.4,1.6,1.8,2.2,2.4,2.6,2.8],"tickSize":-6,"labels":false,"title":null}}}},
{"data":{"name":"one"},"mark":{"type":"rule","color":"#666","strokeDash":[8,6],"strokeWidth":1},"encoding":{"x":{"datum":-57.5,"type":"quantitative","axis":null}}},
{"data":{"name":"one"},"mark":{"type":"text","text":"p−H₂O  1₁₁−0₀₀","align":"left","baseline":"middle","font":"Liberation Serif","fontSize":15},"encoding":{"x":{"datum":-82.8,"type":"quantitative","axis":null},"y":{"datum":1.32,"type":"quantitative","axis":{"orient":"right","values":[0.2,0.4,0.6,0.8,1.2,1.4,1.6,1.8,2.2,2.4,2.6,2.8],"tickSize":-6,"labels":false,"title":null}}}}
]},
{"width":367,"height":128,"layer":[
{"data":{"name":"p2o"},"mark":{"type":"line","color":"#222","strokeWidth":0.8,"clip":true,"interpolate":"step"},"encoding":{"x":{"field":"v","type":"quantitative","scale":{"domain":[-85,-30],"nice":false,"zero":false},"axis":{"orient":"bottom","values":[-85,-80,-75,-70,-65,-60,-55,-50,-45,-40,-35,-30],"tickSize":-8,"labels":false,"title":null}},"y":{"field":"t","type":"quantitative","scale":{"domain":[0.15,1.815],"nice":false,"zero":false},"axis":{"orient":"left","values":[0.5,1,1.5],"tickSize":-12,"labelPadding":18,"format":"~g","title":null}}}},
{"data":{"name":"p2r"},"mark":{"type":"line","color":"#ff0000","strokeWidth":2,"clip":true,"interpolate":"monotone"},"encoding":{"x":{"field":"v","type":"quantitative","axis":{"orient":"top","values":[-85,-80,-75,-70,-65,-60,-55,-50,-45,-40,-35,-30],"tickSize":-8,"labels":false,"title":null}},"y":{"field":"t","type":"quantitative","axis":{"orient":"right","values":[0.5,1,1.5],"tickSize":-12,"labels":false,"title":null}}}},
{"data":{"name":"p2b"},"mark":{"type":"line","color":"#0000ff","strokeWidth":2,"clip":true,"interpolate":"monotone"},"encoding":{"x":{"field":"v","type":"quantitative","axis":null},"y":{"field":"t","type":"quantitative","axis":{"orient":"left","values":[0.2,0.3,0.4,0.6,0.7,0.8,0.9,1.1,1.2,1.3,1.4,1.6,1.7,1.8],"tickSize":-6,"labels":false,"title":null}}}},
{"data":{"name":"one"},"mark":{"type":"rule","color":"#666","strokeDash":[8,6],"strokeWidth":1},"encoding":{"x":{"datum":-57.5,"type":"quantitative","axis":null}}},
{"data":{"name":"one"},"mark":{"type":"text","text":"o−H₂O  1₁₀−1₀₁","align":"left","baseline":"middle","font":"Liberation Serif","fontSize":15},"encoding":{"x":{"datum":-82.8,"type":"quantitative","axis":null},"y":{"datum":1.04,"type":"quantitative","axis":{"orient":"right","values":[0.2,0.3,0.4,0.6,0.7,0.8,0.9,1.1,1.2,1.3,1.4,1.6,1.7,1.8],"tickSize":-6,"labels":false,"title":null}}}}
]},
{"width":367,"height":128,"layer":[
{"data":{"name":"p3o"},"mark":{"type":"line","color":"#222","strokeWidth":0.8,"clip":true,"interpolate":"linear"},"encoding":{"x":{"field":"v","type":"quantitative","scale":{"domain":[-85,-30],"nice":false,"zero":false},"axis":{"orient":"bottom","values":[-85,-80,-75,-70,-65,-60,-55,-50,-45,-40,-35,-30],"tickSize":-8,"labels":false,"title":null}},"y":{"field":"t","type":"quantitative","scale":{"domain":[0.87,8.2],"nice":false,"zero":false},"axis":{"orient":"left","values":[2,4,6,8],"tickSize":-12,"labelPadding":18,"format":"~g","title":null}}}},
{"data":{"name":"p3r"},"mark":{"type":"line","color":"#ff0000","strokeWidth":2,"clip":true,"interpolate":"monotone"},"encoding":{"x":{"field":"v","type":"quantitative","axis":{"orient":"top","values":[-85,-80,-75,-70,-65,-60,-55,-50,-45,-40,-35,-30],"tickSize":-8,"labels":false,"title":null}},"y":{"field":"t","type":"quantitative","axis":{"orient":"right","values":[2,4,6,8],"tickSize":-12,"labels":false,"title":null}}}},
{"data":{"name":"p3b"},"mark":{"type":"line","color":"#0000ff","strokeWidth":2,"clip":true,"interpolate":"monotone"},"encoding":{"x":{"field":"v","type":"quantitative","axis":null},"y":{"field":"t","type":"quantitative","axis":{"orient":"left","values":[1,1.5,2.5,3,3.5,4.5,5,5.5,6.5,7,7.5],"tickSize":-6,"labels":false,"title":null}}}},
{"data":{"name":"one"},"mark":{"type":"rule","color":"#666","strokeDash":[8,6],"strokeWidth":1},"encoding":{"x":{"datum":-57.5,"type":"quantitative","axis":null}}},
{"data":{"name":"one"},"mark":{"type":"text","text":"p−H₂O  2₀₂−1₁₁","align":"left","baseline":"middle","font":"Liberation Serif","fontSize":15},"encoding":{"x":{"datum":-82.8,"type":"quantitative","axis":null},"y":{"datum":6.04,"type":"quantitative","axis":{"orient":"right","values":[1,1.5,2.5,3,3.5,4.5,5,5.5,6.5,7,7.5],"tickSize":-6,"labels":false,"title":null}}}}
]},
{"width":367,"height":128,"layer":[
{"data":{"name":"p4o"},"mark":{"type":"line","color":"#222","strokeWidth":0.8,"clip":true,"interpolate":"step"},"encoding":{"x":{"field":"v","type":"quantitative","scale":{"domain":[-85,-30],"nice":false,"zero":false},"axis":{"orient":"bottom","values":[-85,-80,-75,-70,-65,-60,-55,-50,-45,-40,-35,-30],"tickSize":-8,"labels":false,"title":null}},"y":{"field":"t","type":"quantitative","scale":{"domain":[-0.41,5.6],"nice":false,"zero":false},"axis":{"orient":"left","values":[0,2,4],"tickSize":-12,"labelPadding":18,"format":"~g","title":null}}}},
{"data":{"name":"p4r"},"mark":{"type":"line","color":"#ff0000","strokeWidth":2,"clip":true,"interpolate":"monotone"},"encoding":{"x":{"field":"v","type":"quantitative","axis":{"orient":"top","values":[-85,-80,-75,-70,-65,-60,-55,-50,-45,-40,-35,-30],"tickSize":-8,"labels":false,"title":null}},"y":{"field":"t","type":"quantitative","axis":{"orient":"right","values":[0,2,4],"tickSize":-12,"labels":false,"title":null}}}},
{"data":{"name":"p4b"},"mark":{"type":"line","color":"#0000ff","strokeWidth":2,"clip":true,"interpolate":"monotone"},"encoding":{"x":{"field":"v","type":"quantitative","axis":null},"y":{"field":"t","type":"quantitative","axis":{"orient":"left","values":[0.5,1,1.5,2.5,3,3.5,4.5,5,5.5],"tickSize":-6,"labels":false,"title":null}}}},
{"data":{"name":"one"},"mark":{"type":"rule","color":"#666","strokeDash":[8,6],"strokeWidth":1},"encoding":{"x":{"datum":-57.5,"type":"quantitative","axis":null}}},
{"data":{"name":"one"},"mark":{"type":"text","text":"o−H₂O  2₁₂−1₀₁","align":"left","baseline":"middle","font":"Liberation Serif","fontSize":15},"encoding":{"x":{"datum":-82.8,"type":"quantitative","axis":null},"y":{"datum":1.14,"type":"quantitative","axis":{"orient":"right","values":[0.5,1,1.5,2.5,3,3.5,4.5,5,5.5],"tickSize":-6,"labels":false,"title":null}}}}
]},
{"width":367,"height":128,"layer":[
{"data":{"name":"p5o"},"mark":{"type":"line","color":"#222","strokeWidth":0.8,"clip":true,"interpolate":"linear"},"encoding":{"x":{"field":"v","type":"quantitative","scale":{"domain":[-85,-30],"nice":false,"zero":false},"axis":{"orient":"bottom","values":[-85,-80,-75,-70,-65,-60,-55,-50,-45,-40,-35,-30],"tickSize":-8,"labels":false,"title":null}},"y":{"field":"t","type":"quantitative","scale":{"domain":[0.24,7.08],"nice":false,"zero":false},"axis":{"orient":"left","values":[2,4,6],"tickSize":-12,"labelPadding":18,"format":"~g","title":"Tᴍʙ (K)","minExtent":30,"maxExtent":30,"titlePadding":14}}}},
{"data":{"name":"p5r"},"mark":{"type":"line","color":"#ff0000","strokeWidth":2,"clip":true,"interpolate":"monotone"},"encoding":{"x":{"field":"v","type":"quantitative","axis":{"orient":"top","values":[-85,-80,-75,-70,-65,-60,-55,-50,-45,-40,-35,-30],"tickSize":-8,"labels":false,"title":null}},"y":{"field":"t","type":"quantitative","axis":{"orient":"right","values":[2,4,6],"tickSize":-12,"labels":false,"title":null}}}},
{"data":{"name":"p5b"},"mark":{"type":"line","color":"#0000ff","strokeWidth":2,"clip":true,"interpolate":"monotone"},"encoding":{"x":{"field":"v","type":"quantitative","axis":null},"y":{"field":"t","type":"quantitative","axis":{"orient":"left","values":[0.5,1,1.5,2.5,3,3.5,4.5,5,5.5,6.5,7],"tickSize":-6,"labels":false,"title":null}}}},
{"data":{"name":"one"},"mark":{"type":"rule","color":"#666","strokeDash":[8,6],"strokeWidth":1},"encoding":{"x":{"datum":-57.5,"type":"quantitative","axis":null}}},
{"data":{"name":"one"},"mark":{"type":"text","text":"p−H₂O  2₁₁−2₀₂","align":"left","baseline":"middle","font":"Liberation Serif","fontSize":15},"encoding":{"x":{"datum":-82.8,"type":"quantitative","axis":null},"y":{"datum":2.8,"type":"quantitative","axis":{"orient":"right","values":[0.5,1,1.5,2.5,3,3.5,4.5,5,5.5,6.5,7],"tickSize":-6,"labels":false,"title":null}}}}
]},
{"width":367,"height":128,"layer":[
{"data":{"name":"p6o"},"mark":{"type":"line","color":"#222","strokeWidth":0.8,"clip":true,"interpolate":"step"},"encoding":{"x":{"field":"v","type":"quantitative","scale":{"domain":[-85,-30],"nice":false,"zero":false},"axis":{"orient":"bottom","values":[-85,-80,-75,-70,-65,-60,-55,-50,-45,-40,-35,-30],"tickSize":-8,"labels":false,"title":null}},"y":{"field":"t","type":"quantitative","scale":{"domain":[2.47,6.32],"nice":false,"zero":false},"axis":{"orient":"left","values":[3,4,5,6],"tickSize":-12,"labelPadding":18,"format":"~g","title":null}}}},
{"data":{"name":"p6r"},"mark":{"type":"line","color":"#ff0000","strokeWidth":2,"clip":true,"interpolate":"monotone"},"encoding":{"x":{"field":"v","type":"quantitative","axis":{"orient":"top","values":[-85,-80,-75,-70,-65,-60,-55,-50,-45,-40,-35,-30],"tickSize":-8,"labels":false,"title":null}},"y":{"field":"t","type":"quantitative","axis":{"orient":"right","values":[3,4,5,6],"tickSize":-12,"labels":false,"title":null}}}},
{"data":{"name":"p6b"},"mark":{"type":"line","color":"#0000ff","strokeWidth":2,"clip":true,"interpolate":"monotone"},"encoding":{"x":{"field":"v","type":"quantitative","axis":null},"y":{"field":"t","type":"quantitative","axis":{"orient":"left","values":[2.6,2.8,3.2,3.4,3.6,3.8,4.2,4.4,4.6,4.8,5.2,5.4,5.6,5.8,6.2],"tickSize":-6,"labels":false,"title":null}}}},
{"data":{"name":"one"},"mark":{"type":"rule","color":"#666","strokeDash":[8,6],"strokeWidth":1},"encoding":{"x":{"datum":-57.5,"type":"quantitative","axis":null}}},
{"data":{"name":"one"},"mark":{"type":"text","text":"o−H₂O  2₂₁−2₁₂","align":"left","baseline":"middle","font":"Liberation Serif","fontSize":15},"encoding":{"x":{"datum":-82.8,"type":"quantitative","axis":null},"y":{"datum":5.07,"type":"quantitative","axis":{"orient":"right","values":[2.6,2.8,3.2,3.4,3.6,3.8,4.2,4.4,4.6,4.8,5.2,5.4,5.6,5.8,6.2],"tickSize":-6,"labels":false,"title":null}}}}
]},
{"width":367,"height":128,"layer":[
{"data":{"name":"p7o"},"mark":{"type":"line","color":"#222","strokeWidth":0.8,"clip":true,"interpolate":"linear"},"encoding":{"x":{"field":"v","type":"quantitative","scale":{"domain":[-85,-30],"nice":false,"zero":false},"axis":{"orient":"bottom","values":[-85,-80,-75,-70,-65,-60,-55,-50,-45,-40,-35,-30],"tickSize":-8,"labels":false,"title":null}},"y":{"field":"t","type":"quantitative","scale":{"domain":[1.655,6.19],"nice":false,"zero":false},"axis":{"orient":"left","values":[2,3,4,5,6],"tickSize":-12,"labelPadding":18,"format":"~g","title":null}}}},
{"data":{"name":"p7r"},"mark":{"type":"line","color":"#ff0000","strokeWidth":2,"clip":true,"interpolate":"monotone"},"encoding":{"x":{"field":"v","type":"quantitative","axis":{"orient":"top","values":[-85,-80,-75,-70,-65,-60,-55,-50,-45,-40,-35,-30],"tickSize":-8,"labels":false,"title":null}},"y":{"field":"t","type":"quantitative","axis":{"orient":"right","values":[2,3,4,5,6],"tickSize":-12,"labels":false,"title":null}}}},
{"data":{"name":"p7b"},"mark":{"type":"line","color":"#0000ff","strokeWidth":2,"clip":true,"interpolate":"monotone"},"encoding":{"x":{"field":"v","type":"quantitative","axis":null},"y":{"field":"t","type":"quantitative","axis":{"orient":"left","values":[1.8,2.2,2.4,2.6,2.8,3.2,3.4,3.6,3.8,4.2,4.4,4.6,4.8,5.2,5.4,5.6,5.8],"tickSize":-6,"labels":false,"title":null}}}},
{"data":{"name":"one"},"mark":{"type":"rule","color":"#666","strokeDash":[8,6],"strokeWidth":1},"encoding":{"x":{"datum":-57.5,"type":"quantitative","axis":null}}},
{"data":{"name":"one"},"mark":{"type":"text","text":"o−H₂O  3₁₂−3₀₃","align":"left","baseline":"middle","font":"Liberation Serif","fontSize":15},"encoding":{"x":{"datum":-82.8,"type":"quantitative","axis":null},"y":{"datum":3.88,"type":"quantitative","axis":{"orient":"right","values":[1.8,2.2,2.4,2.6,2.8,3.2,3.4,3.6,3.8,4.2,4.4,4.6,4.8,5.2,5.4,5.6,5.8],"tickSize":-6,"labels":false,"title":null}}}}
]},
{"width":367,"height":128,"layer":[
{"data":{"name":"p8o"},"mark":{"type":"line","color":"#222","strokeWidth":0.8,"clip":true,"interpolate":"step"},"encoding":{"x":{"field":"v","type":"quantitative","scale":{"domain":[-85,-30],"nice":false,"zero":false},"axis":{"orient":"bottom","values":[-85,-80,-75,-70,-65,-60,-55,-50,-45,-40,-35,-30],"tickSize":-8,"labelPadding":18,"labelExpr":"datum.value % 20 == 0 ? datum.label : ''","title":"Vʟsʀ (km/s)","titlePadding":0}},"y":{"field":"t","type":"quantitative","scale":{"domain":[1.453,1.95],"nice":false,"zero":false},"axis":{"orient":"left","values":[1.5,1.6,1.7,1.8,1.9],"tickSize":-12,"labelPadding":18,"format":"~g","title":null}}}},
{"data":{"name":"p8r"},"mark":{"type":"line","color":"#ff0000","strokeWidth":2,"clip":true,"interpolate":"monotone"},"encoding":{"x":{"field":"v","type":"quantitative","axis":{"orient":"top","values":[-85,-80,-75,-70,-65,-60,-55,-50,-45,-40,-35,-30],"tickSize":-8,"labels":false,"title":null}},"y":{"field":"t","type":"quantitative","axis":{"orient":"right","values":[1.5,1.6,1.7,1.8,1.9],"tickSize":-12,"labels":false,"title":null}}}},
{"data":{"name":"p8b"},"mark":{"type":"line","color":"#0000ff","strokeWidth":2,"clip":true,"interpolate":"monotone"},"encoding":{"x":{"field":"v","type":"quantitative","axis":null},"y":{"field":"t","type":"quantitative","axis":{"orient":"left","values":[1.46,1.48,1.52,1.54,1.56,1.58,1.62,1.64,1.66,1.68,1.72,1.74,1.76,1.78,1.82,1.84,1.86,1.88,1.92,1.94],"tickSize":-6,"labels":false,"title":null}}}},
{"data":{"name":"one"},"mark":{"type":"rule","color":"#666","strokeDash":[8,6],"strokeWidth":1},"encoding":{"x":{"datum":-57.5,"type":"quantitative","axis":null}}},
{"data":{"name":"one"},"mark":{"type":"text","text":"p−H₂O  5₂₄−  4₃₁","align":"left","baseline":"middle","font":"Liberation Serif","fontSize":15},"encoding":{"x":{"datum":-82.8,"type":"quantitative","axis":null},"y":{"datum":1.804,"type":"quantitative","axis":{"orient":"right","values":[1.46,1.48,1.52,1.54,1.56,1.58,1.62,1.64,1.66,1.68,1.72,1.74,1.76,1.78,1.82,1.84,1.86,1.88,1.92,1.94],"tickSize":-6,"labels":false,"title":null}}}},
{"data":{"name":"one"},"mark":{"type":"text","text":"CH₃OH","align":"center","baseline":"middle","font":"Liberation Serif","fontSize":11},"encoding":{"x":{"datum":-45.85,"type":"quantitative","axis":null},"y":{"datum":1.655,"type":"quantitative","axis":null}}},
{"data":{"name":"one"},"mark":{"type":"rule","color":"#000","strokeWidth":1},"encoding":{"x":{"datum":-45.35,"type":"quantitative","axis":null},"y":{"datum":1.69,"type":"quantitative","axis":null},"y2":{"datum":1.76}}},
{"data":{"name":"one"},"mark":{"type":"point","shape":"M-1,1L0,0L1,1","size":40,"filled":false,"stroke":"#000","strokeWidth":1,"opacity":1},"encoding":{"x":{"datum":-45.35,"type":"quantitative","axis":null},"y":{"datum":1.76,"type":"quantitative","axis":null}}}
]}
]
}
